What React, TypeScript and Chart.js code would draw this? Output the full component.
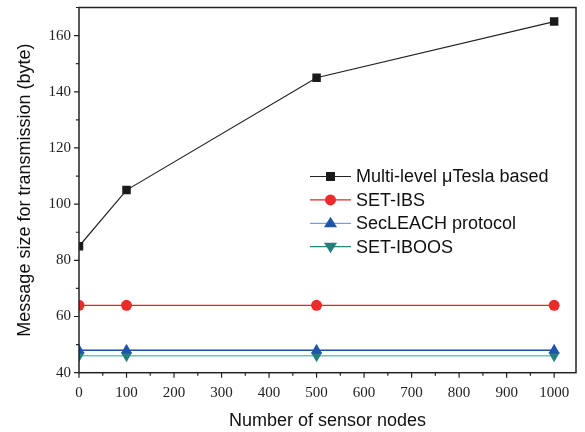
import React, { useEffect, useRef } from "react";
import { Chart, registerables } from "chart.js";

Chart.register(...registerables);

const nodes = [0, 100, 500, 1000];
const multiLevel = [85, 105, 145, 165];
const setIbs = [64, 64, 64, 64];
const secLeach = [48, 48, 48, 48];
const setIboos = [46, 46, 46, 46];

const xTicks = [0, 100, 200, 300, 400, 500, 600, 700, 800, 900, 1000];
const xMinor = [50, 150, 250, 350, 450, 550, 650, 750, 850, 950];
const yTicks = [40, 60, 80, 100, 120, 140, 160];
const yMinor = [50, 70, 90, 110, 130, 150, 170];

const labels = ["Multi-level \u03bcTesla based", "SET-IBS", "SecLEACH protocol", "SET-IBOOS"];

const tickFont = "Liberation Serif";
const sansFont = "Liberation Sans";

const framePlugin = {
  id: "frame",
  afterDraw(chart: any) {
    const { ctx, chartArea: a, scales } = chart;
    const xs = scales.x;
    const ys = scales.y;
    ctx.save();
    ctx.strokeStyle = "#222";
    ctx.lineWidth = 1.5;
    ctx.strokeRect(a.left, a.top, a.right - a.left, a.bottom - a.top);
    ctx.lineWidth = 1.2;
    ctx.beginPath();
    for (const v of xTicks) {
      const p = xs.getPixelForValue(v);
      ctx.moveTo(p, a.bottom);
      ctx.lineTo(p, a.bottom + 5);
    }
    for (const v of xMinor) {
      const p = xs.getPixelForValue(v);
      ctx.moveTo(p, a.bottom);
      ctx.lineTo(p, a.bottom + 3);
    }
    for (const v of yTicks) {
      const p = ys.getPixelForValue(v);
      ctx.moveTo(a.left, p);
      ctx.lineTo(a.left - 5, p);
    }
    for (const v of yMinor) {
      const p = ys.getPixelForValue(v);
      ctx.moveTo(a.left, p);
      ctx.lineTo(a.left - 3, p);
    }
    ctx.stroke();

    // legend
    const x0 = a.left + 231;
    const y0 = a.top + 169;
    const dy = 23.4;
    chart.data.datasets.forEach((ds: any, i: number) => {
      const y = y0 + i * dy;
      ctx.strokeStyle = ds.legendLine || ds.borderColor;
      ctx.lineWidth = 1.2;
      ctx.beginPath();
      ctx.moveTo(x0, y);
      ctx.lineTo(x0 + 41, y);
      ctx.stroke();
      ctx.fillStyle = ds.pointBackgroundColor;
      const cx = x0 + 20.5;
      const r = ds.pointRadius;
      ctx.beginPath();
      if (ds.pointStyle === "rect") {
        ctx.rect(cx - 4.5, y - 4.5, 9, 9);
      } else if (ds.pointStyle === "circle") {
        ctx.arc(cx, y, r, 0, Math.PI * 2);
      } else if (ds.pointRotation === 180) {
        ctx.moveTo(cx - r, y - r * 0.6);
        ctx.lineTo(cx + r, y - r * 0.6);
        ctx.lineTo(cx, y + r);
        ctx.closePath();
      } else {
        ctx.moveTo(cx - r, y + r * 0.6);
        ctx.lineTo(cx + r, y + r * 0.6);
        ctx.lineTo(cx, y - r);
        ctx.closePath();
      }
      ctx.fill();
      ctx.fillStyle = "#111";
      ctx.font = `18px "${sansFont}"`;
      ctx.textBaseline = "middle";
      ctx.textAlign = "left";
      ctx.fillText(labels[i], x0 + 46, y + 1);
    });
    ctx.restore();
  },
};

export default function App() {
  const ref = useRef<HTMLCanvasElement>(null);
  useEffect(() => {
    document.body.style.margin = "0";
    const mk = (vals: number[]) => nodes.map((x, i) => ({ x, y: vals[i] }));
    const chart = new Chart(ref.current as HTMLCanvasElement, {
      type: "line",
      data: {
        datasets: [
          {
            label: labels[0],
            data: mk(multiLevel),
            borderColor: "#222",
            borderWidth: 1.2,
            pointStyle: "rect",
            pointRadius: 6,
            pointBackgroundColor: "#1a1a1a",
            pointBorderWidth: 0,
            clip: 0,
          } as any,
          {
            label: labels[1],
            data: mk(setIbs),
            borderColor: "#e4262b",
            borderWidth: 1.2,
            pointStyle: "circle",
            pointRadius: 5.5,
            pointBackgroundColor: "#ee2b2b",
            pointBorderWidth: 0,
            clip: 0,
          } as any,
          {
            label: labels[2],
            data: mk(secLeach),
            borderColor: "#1f4f9e",
            legendLine: "#7b9fd6",
            borderWidth: 1.5,
            pointStyle: "triangle",
            pointRadius: 6.5,
            pointBackgroundColor: "#1f55a8",
            pointBorderWidth: 0,
            clip: 0,
          } as any,
          {
            label: labels[3],
            data: mk(setIboos),
            borderColor: "#7fbcb9",
            legendLine: "#2a8580",
            borderWidth: 1.5,
            pointStyle: "triangle",
            pointRotation: 180,
            pointRadius: 6.5,
            pointBackgroundColor: "#23807b",
            pointBorderWidth: 0,
            clip: 0,
          } as any,
        ],
      },
      options: {
        animation: false,
        responsive: false,
        layout: { padding: { top: 7.5, right: 9, left: 0, bottom: 0 } },
        plugins: { legend: { display: false }, tooltip: { enabled: false } },
        scales: {
          x: {
            type: "linear",
            min: 0,
            max: 1046,
            afterFit: (s: any) => {
              s.height = 59.3;
              s.paddingLeft = 0;
              s.paddingRight = 0;
            },
            afterBuildTicks: (s: any) => {
              s.ticks = xTicks.map((v) => ({ value: v }));
            },
            grid: { display: false, drawTicks: false },
            border: { display: false },
            ticks: {
              color: "#222",
              font: { family: tickFont, size: 15 },
              padding: 11,
              maxRotation: 0,
              callback: (v: any) => String(v),
            },
            title: {
              display: true,
              text: "Number of sensor nodes",
              color: "#111",
              font: { family: sansFont, size: 18 },
              padding: { top: 0, bottom: 0 },
            },
          },
          y: {
            type: "linear",
            min: 40,
            max: 170,
            afterFit: (s: any) => {
              s.width = 79;
              s.paddingTop = 0;
              s.paddingBottom = 0;
            },
            afterBuildTicks: (s: any) => {
              s.ticks = yTicks.map((v) => ({ value: v }));
            },
            grid: { display: false, drawTicks: false },
            border: { display: false },
            ticks: {
              color: "#222",
              font: { family: tickFont, size: 15 },
              padding: 8,
              callback: (v: any) => String(v),
            },
            title: {
              display: true,
              text: "Message size for transmission (byte)",
              color: "#111",
              font: { family: sansFont, size: 18 },
              padding: { top: 14, bottom: 0 },
            },
          },
        },
      } as any,
      plugins: [framePlugin],
    });
    return () => chart.destroy();
  }, []);
  return <canvas ref={ref} width={585} height={432} style={{ display: "block" }} />;
}
